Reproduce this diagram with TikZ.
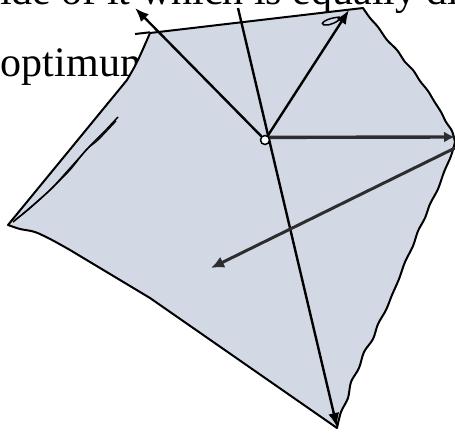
\documentclass[tikz,border=0pt]{standalone}
\usepackage{fontspec}
\setmainfont{Liberation Serif}
\usetikzlibrary{arrows.meta}
\definecolor{regionfill}{RGB}{211,217,228}
\definecolor{darkvec}{RGB}{45,45,48}
\begin{document}
\begin{tikzpicture}[x=1pt,y=-1pt,
  edge/.style={line width=2pt, draw=black, line join=round},
  vec/.style={line width=2.4pt, draw=black, -{Latex[length=14pt,width=11pt]}},
  thickvec/.style={line width=3.4pt, draw=darkvec, -{Latex[length=11pt,width=11pt]}},
  txt/.style={anchor=base west, inner sep=0pt, outer sep=0pt, font=\fontsize{42}{42}\selectfont}]
\clip (0,0) rectangle (455,433);
\node[txt] (t1) at (0,5) {ide of it which is equally di};
\node[txt] (t2) at (1,77) {optimum};
% region
\path[fill=regionfill, edge]
  (150,33) -- (363,8)
  -- plot[smooth, tension=.55] coordinates {(363,8) (370,18) (378,27) (387,40) (397,50) (405,62) (413,70) (420,81) (428,91) (434,101) (441,112) (446,122) (452,131) (455,142)}
  -- plot[smooth, tension=.55] coordinates {(455,142) (451,156) (444,172) (438,189) (430,204) (425,218) (418,231) (413,246) (405,262) (399,279) (392,295) (386,310) (378,324) (373,339) (364,352) (359,368) (351,382) (348,398) (341,412) (337,428)}
  -- (150,298) -- (70,250)
  -- plot[smooth, tension=.5] coordinates {(70,250) (52,240) (35,232) (20,229) (8,225)}
  -- (127,80)
  -- plot[smooth, tension=.6] coordinates {(127,80) (136,64) (143,49) (150,33)}
  -- cycle;
\draw[edge] (135,34) -- (150,32.3);
% inner scribble near left edge
\draw[line width=1.5pt] plot[smooth, tension=.5] coordinates {(118,117) (104,132) (90,146) (72,166) (52,188) (32,206) (13,222)};
\draw[line width=1.2pt] plot[smooth, tension=.5] coordinates {(116,121) (98,140) (86,150) (70,170) (48,192) (28,210) (15,220)};
% scribble near top right
\draw[line width=1.5pt] (340,17) .. controls (326,18) and (319,24) .. (324,25) .. controls (330,26) and (337,22) .. (343,17);
% coordinates
\coordinate (ul) at (135,8);
\coordinate (topA) at (238,8);
\coordinate (bot) at (337,427);
\coordinate (ur) at (349,10);
\coordinate (rt) at (455,137);
\coordinate (rv) at (455,148);
\coordinate (ll) at (211,268);
% long arrow passing the centre
\draw[vec] (topA) -- (bot);
% centre
\node[circle, draw=black, fill=white, line width=1.5pt, inner sep=0pt, minimum size=9pt] (c) at (265,140) {};
\draw[vec] (c) -- (ul);
\draw[vec] (c) -- (ur);
\draw[thickvec] (c.30) -- (rt);
\draw[line width=3pt, draw=darkvec, -{Latex[length=13pt,width=12pt]}] (rv) -- (ll);
\end{tikzpicture}
\end{document}
